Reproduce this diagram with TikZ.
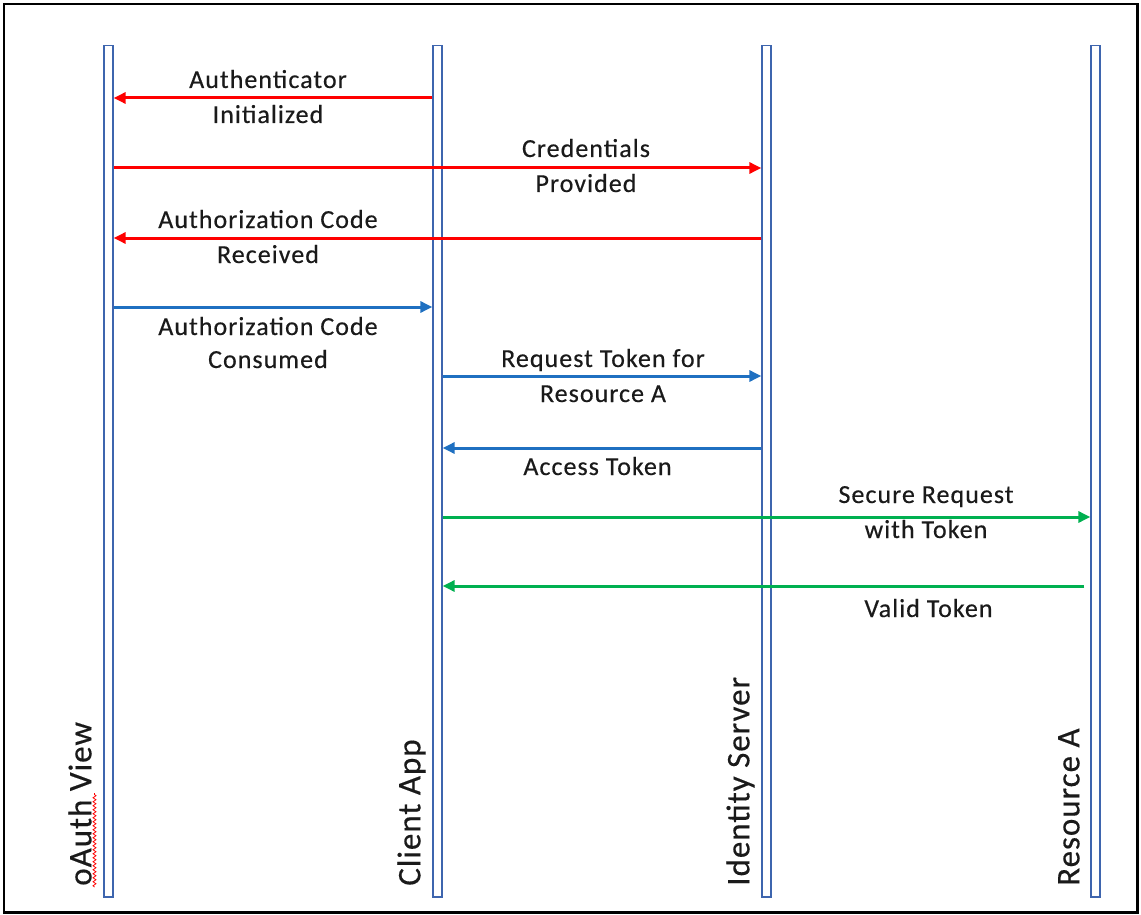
\documentclass[tikz,border=0pt]{standalone}
\usepackage{fontspec}
\setmainfont{Carlito}
\newfontfamily\msgfont{Carlito}[LetterSpace=4,FakeBold=0.4]
\newfontfamily\lifefont{Carlito}[LetterSpace=3,FakeBold=0.4]
\usetikzlibrary{arrows.meta,positioning,calc,decorations.pathmorphing}

\definecolor{barblue}{HTML}{3E65AE}
\definecolor{msgred}{HTML}{FF0000}
\definecolor{msgblue}{HTML}{1F70C1}
\definecolor{msggreen}{HTML}{00B050}
\definecolor{txtgray}{HTML}{1A1A1A}

\begin{document}
\begin{tikzpicture}[x=1pt,y=-1pt,
  lifeline/.style={draw=barblue,line width=1.8pt,fill=white,minimum width=8.5pt,minimum height=851.5pt,inner sep=0pt},
  lifelbl/.style={rotate=90,anchor=base west,inner sep=0pt,text=txtgray,font=\lifefont\fontsize{33}{39}\selectfont},
  lbl/.style={anchor=base,inner sep=0pt,text=txtgray,font=\msgfont\fontsize{26}{31}\selectfont},
  msg/.style={line width=3pt,-{Triangle[length=12pt,width=11pt]}}]
  \useasboundingbox (0,0) rectangle (1141,915);
  \draw[line width=2.5pt] (4,4) rectangle (1137.5,912.5);

  % lifelines
  \node[lifeline] (oauth) at (108.5,471.25) {};
  \node[lifeline] (client) at (437.5,471.25) {};
  \node[lifeline] (idsrv) at (766.5,471.25) {};
  \node[lifeline] (resa) at (1095.5,471.25) {};

  \node[lifelbl] (oauthlbl) at ([xshift=-12pt,yshift=12pt]oauth.south west) {oAuth View};
  \node[lifelbl] (clientlbl) at ([xshift=-12pt,yshift=12pt]client.south west) {Client App};
  \node[lifelbl] (idsrvlbl) at ([xshift=-12pt,yshift=12pt]idsrv.south west) {Identity Server};
  \node[lifelbl] (resalbl) at ([xshift=-11pt,yshift=12pt]resa.south west) {Resource A};
  \draw[msgred,line width=0.8pt,decorate,decoration={snake,amplitude=1.5pt,segment length=4pt}]
    (94.5,887) -- (94.5,793);

  % message rows
  \coordinate (r1) at (0,98);
  \coordinate (r2) at (0,168);
  \coordinate (r3) at (0,238);
  \coordinate (r4) at (0,307);
  \coordinate (r5) at (0,376);
  \coordinate (r6) at (0,448);
  \coordinate (r7) at (0,517);
  \coordinate (r8) at (0,586);

  \draw[msg,msgred] (client.west |- r1) -- (oauth.east |- r1);
  \node[lbl] (m1a) at (268,88) {Authenticator};
  \node[lbl] (m1b) at (268,123) {Initialized};

  \draw[msg,msgred] (oauth.east |- r2) -- (idsrv.west |- r2);
  \node[lbl] (m2a) at (586,157) {Credentials};
  \node[lbl] (m2b) at (586,192) {Provided};

  \draw[msg,msgred] (idsrv.west |- r3) -- (oauth.east |- r3);
  \node[lbl] (m3a) at (268,228) {Authorization Code};
  \node[lbl] (m3b) at (268,263) {Received};

  \draw[msg,msgblue] (oauth.east |- r4) -- (client.west |- r4);
  \node[lbl] (m4a) at (268,335) {Authorization Code};
  \node[lbl] (m4b) at (268,368) {Consumed};

  \draw[msg,msgblue] (client.east |- r5) -- (idsrv.west |- r5);
  \node[lbl] (m5a) at (603,367) {Request Token for};
  \node[lbl] (m5b) at (603,402) {Resource A};

  \draw[msg,msgblue] (idsrv.west |- r6) -- (client.east |- r6);
  \node[lbl] (m6a) at (597.5,475) {Access Token};

  \draw[msg,msggreen] (client.east |- r7) -- (resa.west |- r7);
  \node[lbl] (m7a) at (926,503) {Secure Request};
  \node[lbl] (m7b) at (926,538) {with Token};

  \draw[msg,msggreen] ([xshift=-6pt]resa.west |- r8) -- (client.east |- r8);
  \node[lbl] (m8a) at (928.5,617) {Valid Token};
\end{tikzpicture}
\end{document}
